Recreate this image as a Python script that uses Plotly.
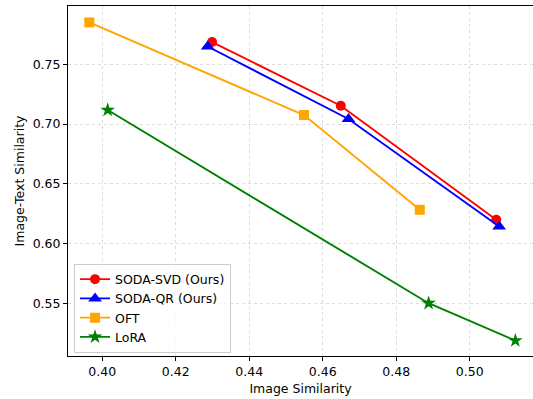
import plotly.graph_objects as go

svd_x = [0.4299, 0.4649, 0.5072]
svd_y = [0.7686, 0.7153, 0.6198]
qr_x = [0.4287, 0.4670, 0.5080]
qr_y = [0.7649, 0.7042, 0.6142]
oft_x = [0.3965, 0.4549, 0.4864]
oft_y = [0.7850, 0.7075, 0.6282]
lora_x = [0.4015, 0.4888, 0.5124]
lora_y = [0.7117, 0.5500, 0.5187]

x_ticks = [0.40, 0.42, 0.44, 0.46, 0.48, 0.50]
y_ticks = [0.55, 0.60, 0.65, 0.70, 0.75]

font = "DejaVu Sans"
fs = 12.5
fig = go.Figure()
series = [
    ("SODA-SVD (Ours)", svd_x, svd_y, "red", "circle", 10),
    ("SODA-QR (Ours)", qr_x, qr_y, "blue", "triangle-up", 12),
    ("OFT", oft_x, oft_y, "orange", "square", 10),
    ("LoRA", lora_x, lora_y, "green", "star", 11),
]
for name, xs, ys, c, sym, sz in series:
    fig.add_trace(go.Scatter(
        x=xs, y=ys, name=name, mode="lines+markers",
        line=dict(color=c, width=1.9),
        marker=dict(color=c, symbol=sym, size=sz, line=dict(width=0)),
        cliponaxis=False,
    ))

fig.update_layout(
    width=533, height=399,
    margin=dict(l=68, r=0, t=6, b=43, autoexpand=False),
    paper_bgcolor="white", plot_bgcolor="white",
    font=dict(family=font, size=fs, color="black"),
    showlegend=True,
    legend=dict(
        x=0.013, y=0.01, xanchor="left", yanchor="bottom",
        bgcolor="rgba(255,255,255,0.8)", bordercolor="#cccccc", borderwidth=1,
        font=dict(family=font, size=fs, color="black"),
        tracegroupgap=0, itemwidth=30,
    ),
    xaxis=dict(
        range=[0.3907, 0.5172], tickvals=x_ticks,
        ticktext=[f"{v:.2f}" for v in x_ticks],
        showline=True, linecolor="black", linewidth=1, mirror=True,
        ticks="outside", ticklen=4, tickcolor="black",
        showgrid=True, gridcolor="#dddddd", gridwidth=0.8, griddash="dot",
        zeroline=False, automargin=False,
        title=dict(text="Image Similarity", standoff=6,
                   font=dict(family=font, size=fs)),
    ),
    yaxis=dict(
        range=[0.5058, 0.7988], tickvals=y_ticks,
        ticktext=[f"{v:.2f}" for v in y_ticks],
        showline=True, linecolor="black", linewidth=1, mirror=False,
        ticks="outside", ticklen=4, tickcolor="black",
        showgrid=True, gridcolor="#dddddd", gridwidth=0.8, griddash="dot",
        zeroline=False, automargin=False,
        title=dict(text="Image-Text Similarity", standoff=5,
                   font=dict(family=font, size=fs)),
    ),
)

fig.write_html(
    "out.html",
    config={"displayModeBar": False},
    post_script="document.body.style.margin='0';document.body.style.overflow='hidden';",
)
